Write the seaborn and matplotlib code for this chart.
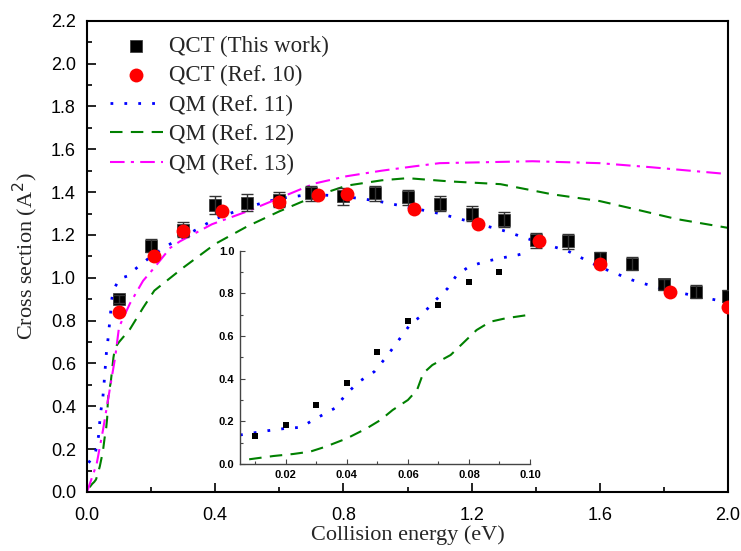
import numpy as np
import pandas as pd
import matplotlib
matplotlib.use("Agg")
import matplotlib.pyplot as plt
from matplotlib.ticker import MultipleLocator, FormatStrFormatter
import seaborn as sns

# ---------------- data ----------------
qct_E = [0.1, 0.2, 0.3, 0.4, 0.5, 0.6, 0.7, 0.8, 0.9, 1.0,
         1.1, 1.2, 1.3, 1.4, 1.5, 1.6, 1.7, 1.8, 1.9, 2.0]
qct_sigma = [0.90, 1.15, 1.225, 1.34, 1.35, 1.365, 1.395, 1.38, 1.395, 1.375,
             1.345, 1.30, 1.27, 1.175, 1.17, 1.09, 1.065, 0.97, 0.935, 0.915]
qct_err = [0.02, 0.03, 0.035, 0.04, 0.04, 0.035, 0.035, 0.04, 0.035, 0.035,
           0.035, 0.035, 0.035, 0.035, 0.035, 0.03, 0.03, 0.025, 0.03, 0.03]

ref10_E = [0.1, 0.21, 0.3, 0.42, 0.6, 0.72, 0.81, 1.02, 1.22, 1.41, 1.6, 1.82, 2.0]
ref10_sigma = [0.84, 1.10, 1.22, 1.31, 1.355, 1.385, 1.39, 1.32, 1.25, 1.17, 1.065, 0.935, 0.865]

ref11_E = [0.005, 0.014, 0.02, 0.025, 0.028, 0.031, 0.036, 0.04, 0.044, 0.049,
           0.053, 0.057, 0.061, 0.064, 0.068, 0.073, 0.076, 0.08, 0.085, 0.09,
           0.096, 0.1, 0.13, 0.15, 0.2, 0.25, 0.3, 0.4, 0.5, 0.6,
           0.7, 0.8, 0.9, 1.0, 1.1, 1.2, 1.3, 1.4, 1.5, 1.6,
           1.7, 1.8, 1.9, 2.0]
ref11_sigma = [0.136, 0.156, 0.167, 0.172, 0.198, 0.222, 0.261, 0.331, 0.386, 0.433,
               0.503, 0.581, 0.659, 0.69, 0.753, 0.823, 0.886, 0.925, 0.948, 0.964,
               0.98, 0.995, 1.01, 1.04, 1.10, 1.15, 1.19, 1.275, 1.33, 1.37,
               1.39, 1.38, 1.36, 1.33, 1.30, 1.26, 1.22, 1.17, 1.125, 1.05,
               0.99, 0.945, 0.915, 0.885]

ref12_E = [0.008, 0.016, 0.0225, 0.028, 0.033, 0.04, 0.0465, 0.051, 0.055, 0.06,
           0.063, 0.065, 0.068, 0.074, 0.078, 0.0825, 0.087, 0.092, 0.1, 0.134,
           0.175, 0.21, 0.3, 0.4, 0.5, 0.6, 0.71, 0.81, 0.92, 1.0,
           1.13, 1.29, 1.45, 1.6, 1.71, 1.84, 2.0]
ref12_sigma = [0.022, 0.0375, 0.047, 0.058, 0.081, 0.12, 0.167, 0.206, 0.253, 0.30,
               0.347, 0.425, 0.464, 0.511, 0.566, 0.628, 0.667, 0.683, 0.70, 0.76,
               0.86, 0.94, 1.047, 1.158, 1.24, 1.31, 1.38, 1.43, 1.455, 1.465,
               1.45, 1.437, 1.39, 1.358, 1.32, 1.274, 1.233]

ref13_E = [0.0, 0.03, 0.05, 0.07, 0.088, 0.1, 0.134, 0.175, 0.206, 0.26,
           0.29, 0.39, 0.5, 0.6, 0.71, 0.81, 0.92, 1.02, 1.1, 1.39,
           1.6, 1.76, 2.0]
ref13_sigma = [0.0, 0.13, 0.29, 0.47, 0.63, 0.77, 0.88, 0.986, 1.04, 1.14,
               1.17, 1.25, 1.31, 1.372, 1.44, 1.474, 1.50, 1.52, 1.535, 1.544,
               1.535, 1.516, 1.484]

inset_E = [0.01, 0.02, 0.03, 0.04, 0.05, 0.06, 0.07, 0.08, 0.09]
inset_sigma = [0.131, 0.183, 0.277, 0.381, 0.527, 0.672, 0.745, 0.855, 0.902]

labels = ["QCT (This work)", "QCT (Ref. 10)", "QM (Ref. 11)", "QM (Ref. 12)", "QM (Ref. 13)"]
x_ticks = [0.0, 0.4, 0.8, 1.2, 1.6, 2.0]
y_ticks = [0.0, 0.2, 0.4, 0.6, 0.8, 1.0, 1.2, 1.4, 1.6, 1.8, 2.0, 2.2]
inset_x_ticks = [0.02, 0.04, 0.06, 0.08, 0.10]
inset_y_ticks = [0.0, 0.2, 0.4, 0.6, 0.8, 1.0]

# ---------------- style ----------------
sns.set_theme(style="ticks")
plt.rcParams["font.family"] = ["Liberation Sans", "DejaVu Sans"]
plt.rcParams["xtick.direction"] = "in"
plt.rcParams["ytick.direction"] = "in"
plt.rcParams["axes.linewidth"] = 1.5

SERIF = ["Liberation Serif", "DejaVu Serif"]

fig = plt.figure(figsize=(7.41, 5.51), dpi=100)
ax = fig.add_axes([87 / 741, 1 - 492 / 551, 641 / 741, 471.3 / 551])

df_qct = pd.DataFrame({"E": qct_E, "sigma": qct_sigma, "err": qct_err})
df10 = pd.DataFrame({"E": ref10_E, "sigma": ref10_sigma})
df11 = pd.DataFrame({"E": ref11_E, "sigma": ref11_sigma})
df12 = pd.DataFrame({"E": ref12_E, "sigma": ref12_sigma})
df13 = pd.DataFrame({"E": ref13_E, "sigma": ref13_sigma})
df_in = pd.DataFrame({"E": inset_E, "sigma": inset_sigma})

sns.lineplot(data=df11, x="E", y="sigma", ax=ax, color="#0000FF",
             linestyle=(0, (1, 4)), linewidth=2.0, label=labels[2], estimator=None)
sns.lineplot(data=df12, x="E", y="sigma", ax=ax, color="#008000",
             linestyle=(0, (6, 4)), linewidth=1.5, label=labels[3], estimator=None)
sns.lineplot(data=df13, x="E", y="sigma", ax=ax, color="#FF00FF",
             linestyle=(0, (7, 3, 1.5, 3)), linewidth=1.5, label=labels[4], estimator=None)

sns.scatterplot(data=df_qct, x="E", y="sigma", ax=ax, marker="s", s=75,
                color="black", edgecolor="#333333", linewidth=0.5,
                label=labels[0], zorder=3)
ax.errorbar(qct_E, qct_sigma, yerr=qct_err, fmt="none", ecolor="#333333",
            elinewidth=1.0, capsize=4.5, capthick=1.0, zorder=4)
sns.scatterplot(data=df10, x="E", y="sigma", ax=ax, marker="o", s=100,
                color="#FF0000", edgecolor="#FF0000", linewidth=0,
                label=labels[1], zorder=5)

ax.set_xlim(0, 2.0)
ax.set_ylim(0, 2.2)
ax.set_xticks(x_ticks)
ax.set_yticks(y_ticks)
ax.xaxis.set_major_formatter(FormatStrFormatter("%.1f"))
ax.yaxis.set_major_formatter(FormatStrFormatter("%.1f"))
ax.xaxis.set_minor_locator(MultipleLocator(0.2))
ax.yaxis.set_minor_locator(MultipleLocator(0.1))
ax.tick_params(which="major", length=6.5, width=1.2, labelsize=13,
               top=False, right=False, color="black", labelcolor="black")
ax.tick_params(axis="x", which="major", pad=11)
ax.tick_params(axis="y", which="major", pad=8)
ax.tick_params(which="minor", length=3.5, width=1.2, top=False, right=False, color="black")
for s in ax.spines.values():
    s.set_color("black")
    s.set_linewidth(1.5)

ax.set_xlabel("Collision energy (eV)", fontsize=16, family=SERIF, labelpad=1)
ax.set_ylabel("Cross section (A$^2$)", fontsize=16, family=SERIF, labelpad=8)

handles, labs = ax.get_legend_handles_labels()
order = [labs.index(l) for l in labels]
ax.legend([handles[i] for i in order], [labs[i] for i in order],
          loc="upper left", bbox_to_anchor=(0.036, 0.968), frameon=False,
          prop={"family": SERIF, "size": 16.5}, handlelength=2.3,
          handletextpad=0.25, labelspacing=0.36, borderpad=0, borderaxespad=0)

# ---------------- inset ----------------
axi = fig.add_axes([240 / 741, 1 - 464 / 551, 290 / 741, 213.3 / 551])
axi.set_facecolor("none")
sns.lineplot(data=df11, x="E", y="sigma", ax=axi, color="#0000FF",
             linestyle=(0, (1, 4)), linewidth=2.0, estimator=None, legend=False)
sns.lineplot(data=df12, x="E", y="sigma", ax=axi, color="#008000",
             linestyle=(0, (6, 4)), linewidth=1.5, estimator=None, legend=False)
sns.scatterplot(data=df_in, x="E", y="sigma", ax=axi, marker="s", s=16,
                color="black", linewidth=0, legend=False, zorder=4)
axi.set_xlim(0.005, 0.10)
axi.set_ylim(0, 1.0)
axi.set_xticks(inset_x_ticks)
axi.set_yticks(inset_y_ticks)
axi.xaxis.set_major_formatter(FormatStrFormatter("%.2f"))
axi.yaxis.set_major_formatter(FormatStrFormatter("%.1f"))
axi.yaxis.set_minor_locator(MultipleLocator(0.1))
axi.xaxis.set_minor_locator(MultipleLocator(0.01))
axi.tick_params(which="major", length=3.5, width=0.8, labelsize=8, pad=4,
                color="#444444", labelcolor="black")
axi.tick_params(which="minor", length=2, width=0.8, color="#444444")
for t in axi.get_xticklabels() + axi.get_yticklabels():
    t.set_fontweight("bold")
axi.spines["top"].set_visible(False)
axi.spines["right"].set_visible(False)
for k in ("left", "bottom"):
    axi.spines[k].set_color("#444444")
    axi.spines[k].set_linewidth(1.0)
axi.set_xlabel("")
axi.set_ylabel("")

fig.savefig("out.png", dpi=100)
